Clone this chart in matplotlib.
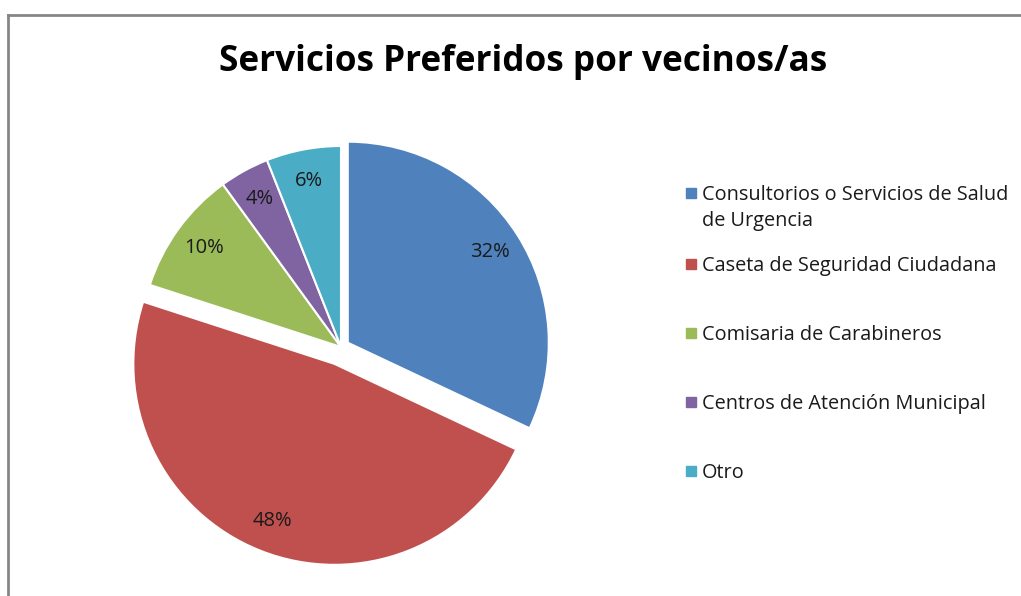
import matplotlib.pyplot as plt
from matplotlib.lines import Line2D
from matplotlib.patches import Rectangle

# data
categories = ['Consultorios o Servicios de Salud\nde Urgencia',
              'Caseta de Seguridad Ciudadana',
              'Comisaria de Carabineros',
              'Centros de Atención Municipal',
              'Otro']
values = [32, 48, 10, 4, 6]
colors = ['#4F81BD', '#C0504D', '#9BBB59', '#8064A2', '#4BACC6']
explode = [0.04, 0.09, 0, 0, 0]

W, H = 1021, 596
fig = plt.figure(figsize=(W / 100, H / 100), dpi=100)
plt.rcParams['font.family'] = ['Open Sans', 'DejaVu Sans']

# chart frame (top and left border visible)
fig.add_artist(Line2D([8 / W, 8 / W], [0, 1 - 15 / H], color='#868686', lw=2))
fig.add_artist(Line2D([8 / W, 1], [1 - 15 / H, 1 - 15 / H], color='#868686', lw=2))

fig.text(523 / W, 1 - 62 / H, 'Servicios Preferidos por vecinos/as',
         ha='center', va='center', fontsize=25.3, fontweight='bold')

# pie axes: centre (341, 347) px, radius 201 px
cx, cy, r, k = 341, 347, 201, 1.25
half = r * k
ax = fig.add_axes([(cx - half) / W, (H - cy - half) / H, 2 * half / W, 2 * half / H])
wedges, texts, autotexts = ax.pie(values, colors=colors, explode=explode,
                                  startangle=90, counterclock=False,
                                  autopct='%1.0f%%', pctdistance=0.84,
                                  wedgeprops=dict(edgecolor='white', linewidth=1.5),
                                  textprops=dict(fontsize=14.5, color='#1a1a1a'))
ax.set_xlim(-k, k)
ax.set_ylim(-k, k)
ax.set_aspect('equal')
ax.axis('off')

# legend, drawn by hand to get the Excel spacing
for i, (lab, col) in enumerate(zip(categories, colors)):
    y = 193 if i == 0 else 264 + 69 * (i - 1)
    fig.add_artist(Rectangle((686 / W, 1 - (y + 5) / H), 10 / W, 10 / H,
                             color=col, transform=fig.transFigure))
    fig.text(702 / W, 1 - (y - 8) / H, lab, ha='left', va='top',
             fontsize=14.3, color='#1a1a1a', linespacing=1.42)

fig.savefig('out.png', dpi=100)
